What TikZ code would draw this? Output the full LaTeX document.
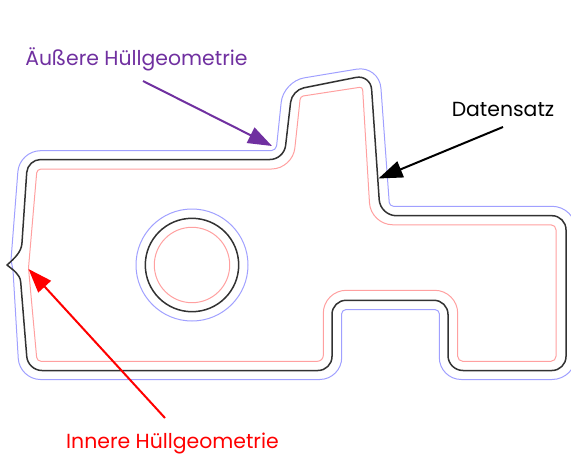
\documentclass[tikz,border=0pt]{standalone}
\usepackage{fontspec}
\setmainfont{Poppins}
\usetikzlibrary{arrows.meta}
\definecolor{outerline}{RGB}{160,160,255}
\definecolor{innerline}{RGB}{255,160,160}
\definecolor{datumline}{RGB}{50,50,50}
\definecolor{outerlabel}{RGB}{112,48,160}
\tikzset{
  hull/.style={line width=1pt,line join=round},
  outerhull/.style={hull,draw=outerline},
  innerhull/.style={hull,draw=innerline},
  dataset/.style={line width=1.5pt,draw=datumline,line join=round},
  callout/.style={line width=2pt,-{Triangle[length=24pt,width=17pt]}},
  caption/.style={font=\fontsize{20.4}{24}\selectfont,inner sep=0pt,anchor=center}
}
\begin{document}
\begin{tikzpicture}[x=1pt,y=-1pt]
\useasboundingbox (0,0) rectangle (571,455);
% outer hull
\draw[outerhull]
  (150,150.7) [rounded corners=21pt] -- (19.5,150.7) [sharp corners] -- (11,260) -- (13,270)
  [rounded corners=21pt] -- (19.5,379.5) [rounded corners=22pt] -- (341.7,379.5)
  [rounded corners=4pt] -- (341.7,309.7) -- (439.3,309.7)
  [rounded corners=22pt] -- (439.3,379.5) [rounded corners=24pt] -- (576,379.5) -- (576,206.3)
  [rounded corners=4pt] -- (389.5,206.3) [rounded corners=23pt] -- (379.3,65.4)
  [rounded corners=21pt] -- (283.4,81.3) [rounded corners=5pt] -- (276.1,150.7) -- cycle;
% inner hull
\draw[innerhull]
  (150,169) [rounded corners=4pt] -- (37,169) [sharp corners] -- (28.5,268)
  [rounded corners=4pt] -- (37,361.3) [rounded corners=6pt] -- (323.3,361.3)
  [rounded corners=23pt] -- (323.3,290.3) -- (457.7,290.3)
  [rounded corners=5pt] -- (457.7,361.3) -- (556,361.3) -- (556,224.8)
  [rounded corners=22pt] -- (370.8,224.8) [rounded corners=3pt] -- (362.5,86.9)
  -- (300.4,96.4) [rounded corners=21pt] -- (292.6,169) -- cycle;
% data set
\draw[dataset]
  (150,159.5) [rounded corners=13pt] -- (27.6,159.5) [sharp corners] -- (21.9,244)
  .. controls (21,252) and (15,258) .. (7,265)
  .. controls (13,270) and (20,274) .. (20.7,282)
  [rounded corners=14pt] -- (27.9,370.5) [rounded corners=14pt] -- (332,370.5)
  -- (332,300.3) -- (448,300.3) [rounded corners=15pt] -- (448,370.5)
  [rounded corners=14pt] -- (566,370.5) -- (566,215.7)
  [rounded corners=16pt] -- (380.3,215.7) [rounded corners=15pt] -- (370.6,74.5)
  [rounded corners=12pt] -- (292,90.2) [rounded corners=14pt] -- (284,159.5) -- cycle;
% bore
\node[circle,outerhull,minimum size=112pt,inner sep=0pt] (boreouter) at (192,265) {};
\node[circle,dataset,minimum size=93.4pt,inner sep=0pt] (boredata) at (192,265) {};
\node[circle,innerhull,minimum size=75.4pt,inner sep=0pt] (boreinner) at (192,265) {};
% captions
\node[caption,text=outerlabel] (lblouter) at (136.5,59) {Äußere Hüllgeometrie};
\node[caption,text=black] (lbldata) at (503,109) {Datensatz};
\node[caption,text=red] (lblinner) at (172.5,443) {Innere Hüllgeometrie};
% callouts
\coordinate (tipouter) at (272,146);
\coordinate (tipdata) at (378.5,178.5);
\coordinate (tipinner) at (28.5,269);
\coordinate (startouter) at (143,81);
\coordinate (startdata) at (503,127);
\coordinate (startinner) at (165,418);
\draw[callout,draw=outerlabel,fill=outerlabel] (startouter) -- (tipouter);
\draw[callout,draw=black,fill=black] (startdata) -- (tipdata);
\draw[callout,draw=red,fill=red] (startinner) -- (tipinner);
\end{tikzpicture}
\end{document}
